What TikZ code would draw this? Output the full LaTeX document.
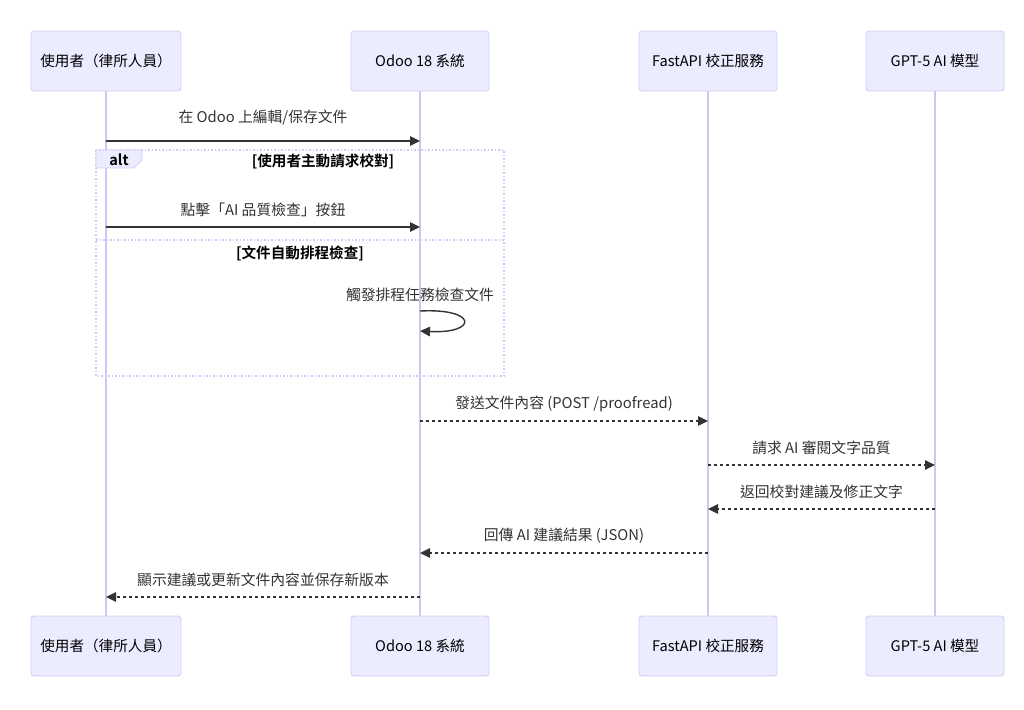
\documentclass[tikz,border=0pt]{standalone}
\usepackage{fontspec}
\setmainfont{Noto Sans CJK TC}[BoldFont={Noto Sans CJK TC Bold}]
\usetikzlibrary{arrows.meta}
\definecolor{actfill}{HTML}{ECECFF}
\definecolor{actline}{HTML}{D4CCF5}
\definecolor{lifeline}{HTML}{CFC6F3}
\definecolor{loopline}{HTML}{D2CAF5}
\definecolor{txt}{HTML}{333333}
\tikzset{
  actor/.style={draw=actline, fill=actfill, line width=0.9pt, rounded corners=3pt,
    minimum width=138pt, minimum height=60pt, inner sep=0pt, text=black,
    font=\fontsize{14.6}{17}\selectfont},
  lifel/.style={draw=lifeline, line width=1.6pt},
  msg/.style={draw=txt, line width=1.4pt, -{Triangle[length=10pt,width=9.5pt]}},
  dmsg/.style={msg, dash pattern=on 3pt off 3pt},
  lbl/.style={text=txt, font=\fontsize{14.8}{17}\selectfont, inner sep=0pt},
  cond/.style={text=black, font=\bfseries\fontsize{14.6}{17}\selectfont, inner sep=0pt},
  loopbox/.style={draw=loopline, line width=1.3pt, dash pattern=on 1.5pt off 2pt},
}
\begin{document}
\begin{tikzpicture}[x=1pt,y=-1pt]
\useasboundingbox (0,0) rectangle (1024,709);
% actors
\node[actor, minimum width=150pt] (u1) at (106,61) {使用者（律所人員）};
\node[actor] (o1) at (420,61) {Odoo 18 系統};
\node[actor] (f1) at (708,61) {FastAPI 校正服務};
\node[actor] (g1) at (935,61) {GPT-5 AI 模型};
\node[actor, minimum width=150pt] (u2) at (106,646) {使用者（律所人員）};
\node[actor] (o2) at (420,646) {Odoo 18 系統};
\node[actor] (f2) at (708,646) {FastAPI 校正服務};
\node[actor] (g2) at (935,646) {GPT-5 AI 模型};
% lifelines
\draw[lifel] (u1.south) -- (u2.north);
\draw[lifel] (o1.south) -- (o2.north);
\draw[lifel] (f1.south) -- (f2.north);
\draw[lifel] (g1.south) -- (g2.north);
% coordinates on lifelines
\foreach \n/\y in {1/141,2/227,4/421,5/465,6/509,7/553,8/597}{
  \coordinate (u\n) at (106,\y);
  \coordinate (o\n) at (420,\y);
  \coordinate (f\n) at (708,\y);
  \coordinate (g\n) at (935,\y);
}
% message 1
\node[lbl] (l1) at (263,118) {在 Odoo 上編輯/保存文件};
\draw[msg] (u1) -- (o1);
% alt box
\coordinate (altTL) at (96,150);
\coordinate (altBR) at (504,376);
\draw[loopbox] (altTL) rectangle (altBR);
\draw[loopbox] (96,240) -- (504,240);
\draw[draw=actline, fill=actfill, line width=0.9pt] (96,150) -- (142,150) -- (142,160) -- (134,168) -- (96,168) -- cycle;
\node[cond] (alt) at (119,159.5) {alt};
\node[cond] (c1) at (323,161) {[使用者主動請求校對]};
% message 2
\node[lbl] (l2) at (263,210) {點擊「AI 品質檢查」按鈕};
\draw[msg] (u2) -- (o2);
\node[cond] (c2) at (300,253) {[文件自動排程檢查]};
% self message
\node[lbl] (l3) at (420,295) {觸發排程任務檢查文件};
\coordinate (s1) at (420,311);
\coordinate (s2) at (420,331);
\draw[msg] (s1) .. controls (478,308) and (478,334) .. (s2);
% message 4
\node[lbl] (l4) at (564,404) {發送文件內容 (POST /proofread)};
\draw[dmsg] (o4) -- (f4);
% message 5
\node[lbl] (l5) at (821.5,448) {請求 AI 審閱文字品質};
\draw[dmsg] (f5) -- (g5);
% message 6
\node[lbl] (l6) at (821.5,492) {返回校對建議及修正文字};
\draw[dmsg] (g6) -- (f6);
% message 7
\node[lbl] (l7) at (564,536) {回傳 AI 建議結果 (JSON)};
\draw[dmsg] (f7) -- (o7);
% message 8
\node[lbl] (l8) at (263,580) {顯示建議或更新文件內容並保存新版本};
\draw[dmsg] (o8) -- (u8);
\end{tikzpicture}
\end{document}
